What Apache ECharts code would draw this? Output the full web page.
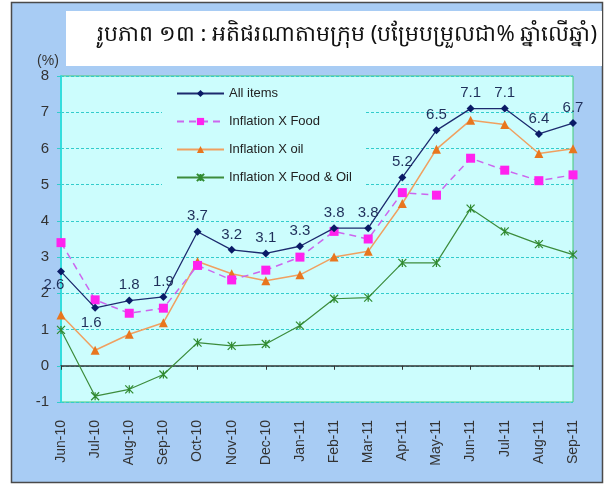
<!DOCTYPE html>
<html>
<head>
<meta charset="utf-8">
<script src="https://cdn.jsdelivr.net/npm/echarts@6/dist/echarts.min.js"></script>
<style>
  html, body { margin: 0; padding: 0; background: #fff; }
  #chart { width: 605px; height: 484px; }
</style>
</head>
<body>
<div id="chart"></div>
<script>
var months = ['Jun-10', 'Jul-10', 'Aug-10', 'Sep-10', 'Oct-10', 'Nov-10', 'Dec-10', 'Jan-11',
  'Feb-11', 'Mar-11', 'Apr-11', 'May-11', 'Jun-11', 'Jul-11', 'Aug-11', 'Sep-11']
var allItems = [2.6, 1.6, 1.8, 1.9, 3.7, 3.2, 3.1, 3.3, 3.8, 3.8, 5.2, 6.5, 7.1, 7.1, 6.4, 6.7]
var exFood = [3.4, 1.82, 1.45, 1.59, 2.77, 2.37, 2.64, 3.0, 3.71, 3.5, 4.78, 4.71, 5.73, 5.4, 5.11, 5.27]
var exOil = [1.4, 0.43, 0.87, 1.19, 2.88, 2.54, 2.35, 2.51, 3.0, 3.16, 4.48, 5.98, 6.78, 6.66, 5.86, 5.99]
var exFoodOil = [0.99, -0.84, -0.65, -0.24, 0.64, 0.55, 0.6, 1.11, 1.85, 1.88, 2.84, 2.84, 4.34, 3.71, 3.36, 3.07]
var yTicks = { min: -1, max: 8, step: 1 }
var titleText = 'រូបភាព ១៣ : អតិផរណាតាមក្រុម (បម្រែបម្រួលជា% ឆ្នាំលើឆ្នាំ)'

var font = 'Liberation Sans, Arial, sans-serif'

// first two points have their label under the point
var allItemsData = allItems.map(function (v, i) {
  if (i === 0) return { value: v, label: { position: 'bottom', offset: [-7, -2] } }
  if (i === 1) return { value: v, label: { position: 'bottom', offset: [-4, 0] } }
  return v
})

var chart = echarts.init(document.getElementById('chart'))
chart.setOption({
  backgroundColor: '#ffffff',
  animation: false,
  graphic: [
    {
      type: 'rect',
      z: -10,
      shape: { x: 11.5, y: 2.5, width: 591, height: 480 },
      style: { fill: '#a8ccf4', stroke: '#4a4a4a', lineWidth: 1.5 }
    },
    {
      type: 'rect',
      z: -9,
      shape: { x: 66, y: 11, width: 536, height: 55 },
      style: { fill: '#ffffff' }
    },
    {
      type: 'text',
      left: 97,
      top: 24,
      style: {
        text: titleText,
        fill: '#111',
        font: '22px "Noto Sans", "DejaVu Sans", sans-serif'
      }
    }
  ],
  grid: {
    left: 61,
    right: 32,
    top: 76,
    bottom: 82,
    show: true,
    backgroundColor: '#ccfdfd',
    borderColor: '#44cc77',
    borderWidth: 1
  },
  legend: {
    orient: 'vertical',
    left: 162,
    top: 77,
    backgroundColor: '#ccfdfd',
    padding: [10, 13, 12, 14],
    itemGap: 15,
    itemWidth: 47,
    itemHeight: 9,
    textStyle: { fontFamily: font, fontSize: 13, color: '#222' },
    data: ['All items', 'Inflation X Food', 'Inflation X oil', 'Inflation X Food & Oil']
  },
  xAxis: [
    {
      type: 'category',
      data: months,
      boundaryGap: false,
      position: 'bottom',
      axisLine: { onZero: true, lineStyle: { color: '#333', width: 1.5 } },
      axisTick: { length: 4, lineStyle: { color: '#333' } },
      axisLabel: { show: false },
      splitLine: { show: false }
    },
    {
      type: 'category',
      data: months,
      boundaryGap: false,
      position: 'bottom',
      axisLine: { show: false, onZero: false },
      axisTick: { show: false },
      axisLabel: { rotate: 90, margin: 18, fontSize: 14, color: '#333', fontFamily: font },
      splitLine: { show: false }
    }
  ],
  yAxis: {
    type: 'value',
    min: yTicks.min,
    max: yTicks.max,
    interval: yTicks.step,
    name: '(%)',
    nameGap: 8,
    nameTextStyle: { fontSize: 14, color: '#333', fontFamily: font, padding: [0, 26, 0, 0] },
    axisLine: { show: true, lineStyle: { color: '#33dddd', width: 2 } },
    axisTick: { show: true, length: 4, lineStyle: { color: '#33cccc' } },
    axisLabel: { fontSize: 15, color: '#333', margin: 12, fontFamily: font },
    splitLine: { lineStyle: { color: '#33cccc', type: [3, 2], width: 1 } }
  },
  series: [
    {
      name: 'All items',
      type: 'line',
      data: allItemsData,
      symbol: 'diamond',
      symbolSize: 8,
      z: 5,
      lineStyle: { color: '#1c2a6e', width: 1.3 },
      itemStyle: { color: '#0a1a66' },
      label: {
        show: true,
        position: 'top',
        distance: 4,
        fontSize: 15,
        color: '#1f2f5a',
        fontFamily: font
      }
    },
    {
      name: 'Inflation X Food',
      type: 'line',
      data: exFood,
      symbol: 'rect',
      symbolSize: 9,
      z: 4,
      lineStyle: { color: '#cc66ee', width: 1.5, type: [7, 5] },
      itemStyle: { color: '#ff22ee' }
    },
    {
      name: 'Inflation X oil',
      type: 'line',
      data: exOil,
      symbol: 'triangle',
      symbolSize: 9,
      z: 3,
      lineStyle: { color: '#f0a060', width: 1.5 },
      itemStyle: { color: '#e8761e' }
    },
    {
      name: 'Inflation X Food & Oil',
      type: 'line',
      data: exFoodOil,
      symbol: 'path://M0,0L10,10M10,0L0,10M5,0L5,10',
      symbolSize: 8,
      z: 2,
      lineStyle: { color: '#3c8c3c', width: 1.2 },
      itemStyle: { color: '#2f8a2f', borderColor: '#2f8a2f', borderWidth: 1.2 }
    }
  ]
})
</script>
</body>
</html>
